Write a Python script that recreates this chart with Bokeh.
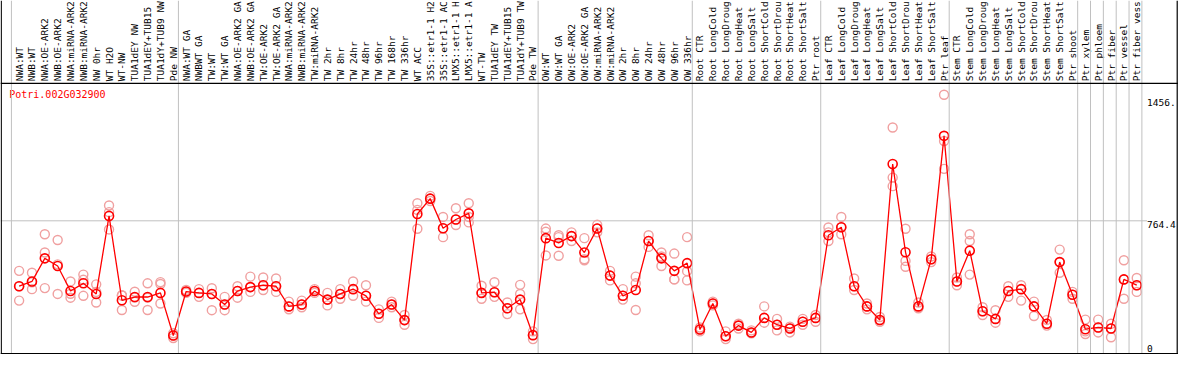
import numpy as np
from bokeh.plotting import figure
from bokeh.models import Range1d, Span
from bokeh.core.properties import value
from bokeh.embed import file_html
from bokeh.resources import INLINE

title_text = "Potri.002G032900"

# labels as displayed (the chart shows at most 14 characters)
categories = [
    "NWA:WT", "NWB:WT", "NWA:OE-ARK2", "NWB:OE-ARK2", "NWA:miRNA-ARK2", "NWB:miRNA-ARK2",
    "NW 0hr", "WT H2O", "WT-NW", "TUA1dEY NW", "TUA1dEY+TUB15", "TUA1dY+TUB9 NW", "Pde NW",
    "NWA:WT GA", "NWBWT GA", "TW:WT", "TW:WT GA", "NWA:OE-ARK2 GA", "NWB:OE-ARK2 GA",
    "TW:OE-ARK2", "TW:OE-ARK2 GA", "NWA:miRNA-ARK2", "NWB:miRNA-ARK2", "TW:miRNA-ARK2",
    "TW 2hr", "TW 8hr", "TW 24hr", "TW 48hr", "TW 96hr", "TW 168hr", "TW 336hr", "WT ACC",
    "35S::etr1-1 H2", "35S::etr1-1 AC", "LMX5::etr1-1 H", "LMX5::etr1-1 A", "WT-TW",
    "TUA1dEY TW", "TUA1dEY+TUB15", "TUA1dY+TUB9 TW", "Pde TW",
    "OW:WT", "OW:WT GA", "OW:OE-ARK2", "OW:OE-ARK2 GA", "OW:miRNA-ARK2", "OW:miRNA-ARK2",
    "OW 2hr", "OW 8hr", "OW 24hr", "OW 48hr", "OW 96hr", "OW 336hr",
    "Root CTR", "Root LongCold", "Root LongDroug", "Root LongHeat", "Root LongSalt",
    "Root ShortCold", "Root ShortDrou", "Root ShortHeat", "Root ShortSalt", "Ptr root",
    "Leaf CTR", "Leaf LongCold", "Leaf LongDroug", "Leaf LongHeat", "Leaf LongSalt",
    "Leaf ShortCold", "Leaf ShortDrou", "Leaf ShortHeat", "Leaf ShortSalt", "Ptr leaf",
    "Stem CTR", "Stem LongCold", "Stem LongDroug", "Stem LongHeat", "Stem LongSalt",
    "Stem ShortCold", "Stem ShortDrou", "Stem ShortHeat", "Stem ShortSalt", "Ptr shoot",
    "Ptr xylem", "Ptr phloem", "Ptr fiber", "Ptr vessel", "Ptr fiber vess",
]

means = [
    382, 410, 545, 500, 354, 399, 337, 793, 300, 319, 319, 343, 94,
    351, 343, 337, 275, 354, 377, 388, 382, 264, 275, 354, 304, 337, 365, 326, 221, 275,
    184, 804, 894, 721, 772, 808, 343, 347, 253, 304, 96,
    663, 635, 675, 579, 719, 444, 326, 360, 646, 545, 472, 517,
    129, 281, 90, 152, 112, 197, 157, 135, 174, 197,
    680, 727, 382, 264, 185, 1096, 581, 264, 540, 1261,
    410, 590, 236, 191, 354, 365, 264, 163, 523, 332,
    131, 141, 135, 422, 388,
]

replicates = [
    [472, 382, 298], [461, 365, 405], [686, 579, 371], [652, 510, 337], [410, 338, 315],
    [450, 420, 326], [393, 349, 287], [854, 815, 714], [329, 328, 243], [350, 316, 291],
    [399, 315, 243], [406, 395, 281], [107, 94, 79],
    [360, 349, 343], [365, 343, 320], [370, 337, 242], [320, 275, 242], [382, 354, 315],
    [438, 377, 349], [433, 388, 360], [427, 382, 349], [292, 264, 247], [298, 275, 259],
    [365, 354, 343], [343, 304, 270], [365, 337, 309], [410, 365, 326], [388, 326, 292],
    [247, 221, 197], [292, 275, 259], [214, 184, 157], [867, 828, 718], [910, 894, 880],
    [787, 721, 669], [838, 772, 740], [867, 787, 755], [385, 343, 309], [405, 347, 320],
    [287, 253, 219], [390, 337, 247], [118, 96, 73],
    [719, 700, 562], [680, 669, 560], [697, 675, 646], [663, 540, 534], [741, 719, 697],
    [472, 444, 416], [365, 326, 304], [438, 399, 243], [680, 646, 612], [579, 556, 500],
    [573, 422, 422], [669, 470, 416],
    [141, 129, 118], [292, 281, 270], [118, 90, 73], [163, 152, 135], [124, 112, 107],
    [264, 197, 169], [191, 157, 124], [146, 135, 112], [191, 174, 157], [214, 197, 174],
    [725, 697, 646], [787, 727, 686], [427, 382, 360], [281, 264, 247], [202, 185, 174],
    [1310, 1017, 967], [718, 530, 496], [287, 264, 253], [556, 540, 523], [1501, 1231, 1068],
    [433, 410, 388], [686, 646, 450], [259, 236, 214], [242, 191, 169], [382, 354, 320],
    [388, 365, 298], [292, 264, 208], [185, 163, 152], [596, 523, 461], [349, 332, 309],
    [187, 118, 103], [187, 141, 112], [163, 135, 84], [534, 422, 309], [430, 388, 349],
]

# index of the last category in each block (vertical separators)
group_ends = [12, 40, 52, 62, 72, 82, 83, 84, 85, 86, 87]

tick_values = [1456.0, 764.4, 0.0]
tick_labels = ["1456.", "764.4", "0"]

# ---------------------------------------------------------------
n = len(categories)
xs = list(range(n))
X0, X1 = -1.45, 90.25
Y0, Y1 = -17.0, 2052.0
SEP = 1568.0          # border between label strip and data area
LABEL_Y = 1580.0

FONT = value("DejaVu Sans Mono")
GRID = "#c0c0c0"
RED = "#ff0000"
PINK = "#f0a0a0"

p = figure(width=1178, height=354, output_backend="svg", toolbar_location=None,
           x_range=Range1d(X0, X1), y_range=Range1d(Y0, Y1),
           min_border=0, min_border_left=0, min_border_right=0,
           min_border_top=0, min_border_bottom=0)
p.xaxis.visible = False
p.yaxis.visible = False
p.xgrid.visible = False
p.ygrid.visible = False
p.outline_line_color = None
p.background_fill_color = "white"
p.border_fill_color = "white"

# vertical separators
p.add_layout(Span(location=-1 + 0.4, dimension="height", line_color=GRID, line_width=1))
for g in group_ends:
    p.add_layout(Span(location=g + 0.4, dimension="height", line_color=GRID, line_width=1))

# horizontal grid at middle tick
label_x = n - 1 + 0.8
p.segment(x0=[X0], y0=[tick_values[1]], x1=[label_x], y1=[tick_values[1]],
          line_color=GRID, line_width=1)

# frame lines
p.add_layout(Span(location=SEP, dimension="width", line_color="black", line_width=1.2))
p.add_layout(Span(location=X0 + 0.06, dimension="height", line_color="black", line_width=1.2))
p.add_layout(Span(location=X1 - 0.1, dimension="height", line_color="black", line_width=1.2))
p.add_layout(Span(location=Y0 + 5, dimension="width", line_color="black", line_width=1.2))

# category labels (rotated)
p.text(x=xs, y=[LABEL_Y] * n, text=categories, angle=np.pi / 2,
       text_align="left", text_baseline="middle", text_font=FONT,
       text_font_size="9.5px", text_color="black")

# replicates
rx, ry = [], []
for i, reps in enumerate(replicates):
    for v in reps:
        rx.append(i)
        ry.append(v)
p.scatter(rx, ry, marker="circle", size=9, fill_color=None,
          line_color=PINK, line_width=1.4)

# mean line + markers
p.line(xs, means, line_color=RED, line_width=1.3)
p.scatter(xs, means, marker="circle", size=9, fill_color=None,
          line_color=RED, line_width=1.6)

# title
p.text(x=[-0.77], y=[1534.0], text=[title_text], text_align="left", text_baseline="top",
       text_font=FONT, text_font_size="10px", text_color=RED)

# right-hand value labels
baselines = ["middle", "top", "bottom"]
for v, t, b in zip(tick_values, tick_labels, baselines):
    p.text(x=[label_x], y=[v], text=[t], text_align="left", text_baseline=b,
           text_font=FONT, text_font_size="9.5px", text_color="black")

open("out.html", "w").write(file_html(p, INLINE))
